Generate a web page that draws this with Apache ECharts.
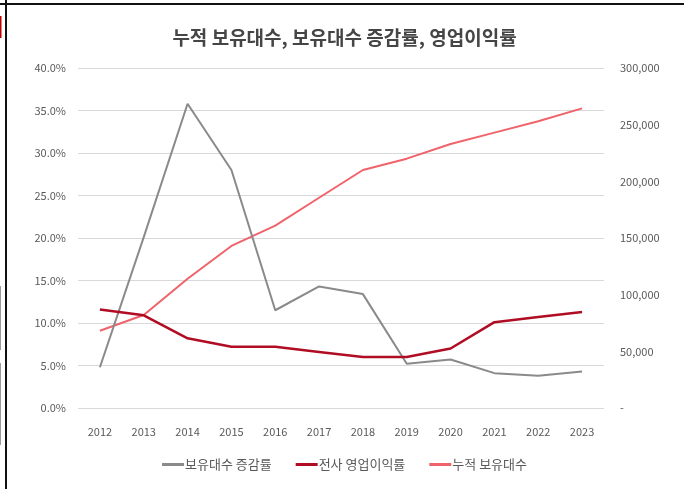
<!DOCTYPE html>
<html>
<head>
<meta charset="utf-8">
<script src="https://cdn.jsdelivr.net/npm/echarts@6/dist/echarts.min.js"></script>
<style>
  html, body { margin: 0; padding: 0; background: #ffffff; }
  #chart { width: 689px; height: 489px; }
</style>
</head>
<body>
<div id="chart"></div>
<script>
// Years on the category axis
var years = ['2012', '2013', '2014', '2015', '2016', '2017', '2018', '2019', '2020', '2021', '2022', '2023'];

// Year-over-year growth of vehicles held (%)
var holdingGrowth = [4.8, 20.1, 35.8, 28.0, 11.5, 14.3, 13.4, 5.2, 5.7, 4.1, 3.8, 4.3];

// Company-wide operating margin (%)
var operatingMargin = [11.6, 10.9, 8.2, 7.2, 7.2, 6.6, 6.0, 6.0, 7.0, 10.1, 10.7, 11.3];

// Cumulative vehicles held (units)
var cumulativeHoldings = [68200, 82000, 114000, 143000, 161000, 185500, 210000, 220000, 233000, 243000, 253000, 264400];

// Axis tick values
var pctTicks = [0, 5, 10, 15, 20, 25, 30, 35, 40];
var unitTicks = [0, 50000, 100000, 150000, 200000, 250000, 300000];

var labelFont = "'Noto Sans CJK KR', 'Noto Sans', sans-serif";
var labelColor = '#595959';

var chart = echarts.init(document.getElementById('chart'), null, { renderer: 'canvas' });

chart.setOption({
  backgroundColor: '#ffffff',
  animation: false,
  title: {
    text: '누적 보유대수, 보유대수 증감률, 영업이익률',
    left: 'center',
    top: 23,
    textStyle: {
      fontFamily: labelFont,
      fontSize: 19,
      fontWeight: 'bold',
      color: '#454545'
    }
  },
  legend: {
    bottom: 13,
    left: 'center',
    itemGap: 24,
    itemWidth: 22,
    itemHeight: 3,
    icon: 'rect',
    textStyle: { fontFamily: labelFont, fontSize: 13, color: labelColor, padding: [0, 0, 0, -4] },
    data: ['보유대수 증감률', '전사 영업이익률', '누적 보유대수']
  },
  grid: {
    left: 78,
    right: 85,
    top: 68,
    bottom: 81,
    containLabel: false
  },
  xAxis: {
    type: 'category',
    data: years,
    boundaryGap: true,
    axisLine: { show: false },
    axisTick: { show: false },
    axisLabel: {
      margin: 18,
      fontFamily: labelFont,
      fontSize: 11,
      color: labelColor
    }
  },
  yAxis: [
    {
      type: 'value',
      min: pctTicks[0],
      max: pctTicks[pctTicks.length - 1],
      interval: pctTicks[1] - pctTicks[0],
      axisLine: { show: false },
      axisTick: { show: false },
      splitLine: { lineStyle: { color: '#d9d9d9', width: 1 } },
      axisLabel: {
        margin: 12,
        fontFamily: labelFont,
        fontSize: 11,
        color: labelColor,
        formatter: function (v) { return v.toFixed(1) + '%'; }
      }
    },
    {
      type: 'value',
      min: unitTicks[0],
      max: unitTicks[unitTicks.length - 1],
      interval: unitTicks[1] - unitTicks[0],
      axisLine: { show: false },
      axisTick: { show: false },
      splitLine: { show: false },
      axisLabel: {
        margin: 16,
        fontFamily: labelFont,
        fontSize: 11,
        color: labelColor,
        formatter: function (v) { return v === 0 ? '-' : v.toLocaleString('en-US'); }
      }
    }
  ],
  series: [
    {
      name: '누적 보유대수',
      type: 'line',
      yAxisIndex: 1,
      data: cumulativeHoldings,
      symbol: 'none',
      z: 2,
      lineStyle: { color: '#f0636b', width: 2 },
      itemStyle: { color: '#f0636b' }
    },
    {
      name: '보유대수 증감률',
      type: 'line',
      yAxisIndex: 0,
      data: holdingGrowth,
      symbol: 'none',
      z: 3,
      lineStyle: { color: '#8a8a8a', width: 2 },
      itemStyle: { color: '#8a8a8a' }
    },
    {
      name: '전사 영업이익률',
      type: 'line',
      yAxisIndex: 0,
      data: operatingMargin,
      symbol: 'none',
      z: 4,
      lineStyle: { color: '#b00c24', width: 2.5 },
      itemStyle: { color: '#b00c24' }
    }
  ],
  graphic: [
    // page frame lines around the chart
    { type: 'rect', shape: { x: 0, y: 3, width: 684, height: 2 }, style: { fill: '#111111' }, silent: true },
    { type: 'rect', shape: { x: 5, y: 0, width: 2, height: 489 }, style: { fill: '#111111' }, silent: true },
    { type: 'rect', shape: { x: 0, y: 16, width: 1.5, height: 22 }, style: { fill: '#c00000' }, silent: true },
    { type: 'rect', shape: { x: 0, y: 286, width: 1, height: 64 }, style: { fill: '#9a9a9a' }, silent: true },
    { type: 'rect', shape: { x: 0, y: 363, width: 1, height: 82 }, style: { fill: '#9a9a9a' }, silent: true }
  ]
});
</script>
</body>
</html>
